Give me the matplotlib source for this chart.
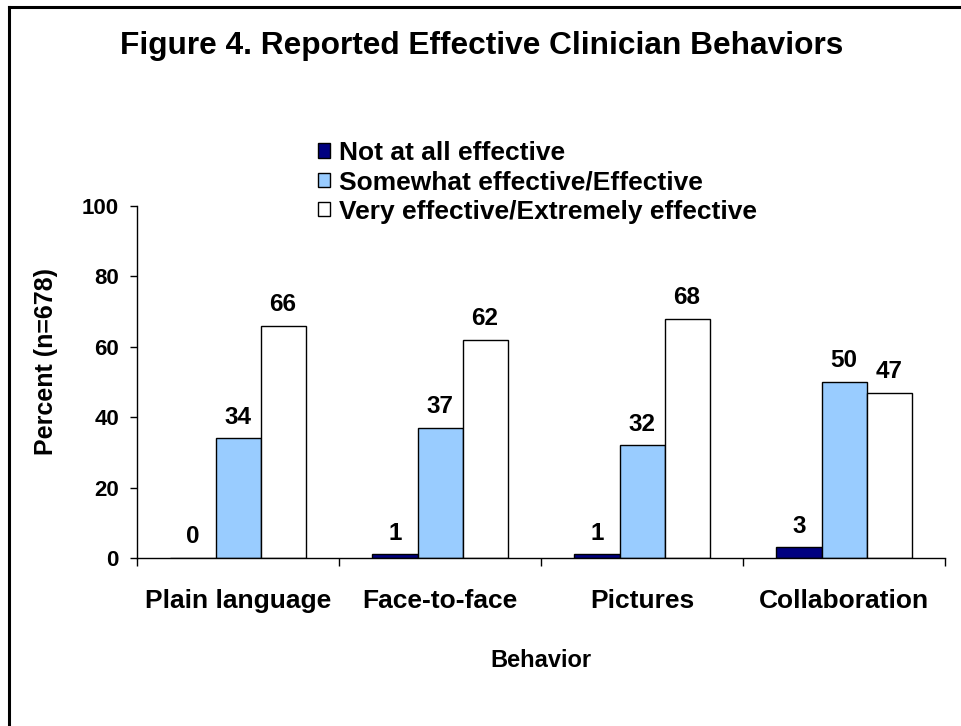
import numpy as np
import matplotlib
matplotlib.use("Agg")
import matplotlib.pyplot as plt
from matplotlib.patches import Patch
from matplotlib.lines import Line2D

plt.rcParams["font.family"] = ["Liberation Sans", "DejaVu Sans"]
plt.rcParams["font.weight"] = "bold"

behaviors = ["Plain language", "Face-to-face", "Pictures", "Collaboration"]
series_names = [
    "Not at all effective",
    "Somewhat effective/Effective",
    "Very effective/Extremely effective",
]
not_effective = [0, 1, 1, 3]
somewhat_effective = [34, 37, 32, 50]
very_effective = [66, 62, 68, 47]
colors = ["#000080", "#99CCFF", "#FFFFFF"]

fig = plt.figure(figsize=(9.61, 7.26), dpi=100)
ax = fig.add_axes([0.1426, 0.2314, 0.8408, 0.4849])

x = np.arange(len(behaviors)) + 0.5
width = 0.223
values = [not_effective, somewhat_effective, very_effective]
for i, (vals, name, col) in enumerate(zip(values, series_names, colors)):
    bars = ax.bar(
        x + (i - 1) * width,
        vals,
        width,
        color=col,
        edgecolor="black",
        linewidth=1.0,
        label=name,
    )
    ax.bar_label(bars, labels=[str(v) for v in vals], padding=7,
                 fontsize=17.5, fontweight="bold")

ax.set_xlim(0, len(behaviors))
ax.set_ylim(0, 100)
ax.set_yticks(range(0, 101, 20))
ax.tick_params(axis="y", labelsize=16, length=5, width=1, pad=8)

# category separator ticks + centered labels
ax.set_xticks(range(len(behaviors) + 1))
ax.set_xticklabels([])
ax.tick_params(axis="x", which="major", length=6, width=1)
ax.set_xticks(x, minor=True)
ax.set_xticklabels(behaviors, minor=True, fontsize=19, fontweight="bold")
ax.tick_params(axis="x", which="minor", length=0, pad=22)

for s in ["top", "right"]:
    ax.spines[s].set_visible(False)
ax.spines["left"].set_linewidth(1)
ax.spines["bottom"].set_linewidth(1)

ax.set_ylabel("Percent (n=678)", fontsize=18, fontweight="bold")
ax.yaxis.set_label_coords(-0.098, 0.557)
ax.set_xlabel("Behavior", fontsize=17, fontweight="bold", labelpad=26)

fig.text(0.501, 0.9366, "Figure 4. Reported Effective Clinician Behaviors",
         ha="center", va="center", fontsize=22.8, fontweight="bold")

handles = [Patch(facecolor=c, edgecolor="black", linewidth=1) for c in colors]
fig.legend(handles, series_names, loc="upper left",
           bbox_to_anchor=(318 / 961, 1 - 141 / 726), frameon=False,
           fontsize=19, handlelength=0.47, handleheight=0.47,
           handletextpad=0.33, labelspacing=0.2, borderpad=0, borderaxespad=0)

# outer border (top and left visible)
fig.add_artist(Line2D([9 / 961, 1], [1 - 7 / 726] * 2, color="black",
                      linewidth=2.2, transform=fig.transFigure))
fig.add_artist(Line2D([9 / 961] * 2, [0, 1 - 7 / 726], color="black",
                      linewidth=2.2, transform=fig.transFigure))

fig.savefig("out.png", dpi=100)
